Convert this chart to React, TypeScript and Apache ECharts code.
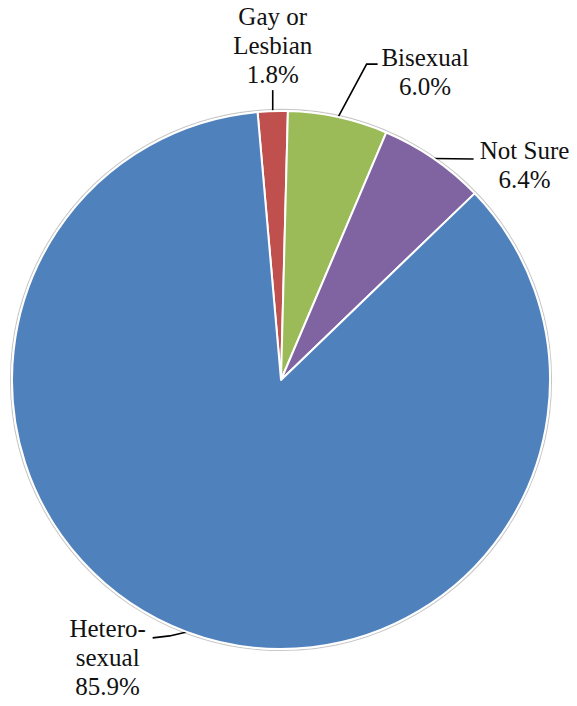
import React, { useEffect, useRef } from "react";
import * as echarts from "echarts";

const categories = ["Gay or\nLesbian", "Bisexual", "Not Sure", "Hetero-\nsexual"];
const values = [1.8, 6.0, 6.4, 85.9];
const colors = ["#C0504D", "#9BBB59", "#8064A2", "#4F81BD"];
const FONT = "Liberation Serif";

export default function App() {
  const ref = useRef<HTMLDivElement>(null);
  useEffect(() => {
    if (!ref.current) return;
    const chart = echarts.init(ref.current, null, { renderer: "svg" });
    const cx = 281;
    const cy = 380;
    const R = 269;
    const total = values.reduce((a, b) => a + b, 0);
    const startAngle = 95;
    const edge = (i: number) => {
      let acc = 0;
      for (let k = 0; k < i; k++) acc += values[k];
      const mid = startAngle - ((acc + values[i] / 2) / total) * 360;
      const rad = (mid * Math.PI) / 180;
      return [cx + R * Math.cos(rad), cy - R * Math.sin(rad)];
    };
    chart.setOption({
      animation: false,
      backgroundColor: "#ffffff",
      textStyle: { fontFamily: FONT },
      graphic: [
        {
          type: "circle",
          z: -10,
          silent: true,
          shape: { cx, cy, r: R + 1.5 },
          style: { fill: "#ffffff", stroke: "#c8c8c8", lineWidth: 1.2 },
        },
      ],
      series: [
        {
          type: "pie",
          z: 5,
          center: [cx, cy],
          radius: [0, R],
          startAngle,
          clockwise: true,
          avoidLabelOverlap: false,
          itemStyle: { borderColor: "#ffffff", borderWidth: 2 },
          label: {
            show: true,
            position: "outside",
            fontFamily: FONT,
            fontSize: 25,
            lineHeight: 29,
            color: "#111111",
            align: "center",
            formatter: (p: any) => `${p.name}\n${Number(p.value).toFixed(1)}%`,
          },
          labelLine: { show: true, length: 10, length2: 10, lineStyle: { color: "#000000", width: 1.6 } },
          labelLayout: (params: any) => {
            const i = params.dataIndex;
            const p0 =
              params.labelLinePoints && params.labelLinePoints[0]
                ? params.labelLinePoints[0]
                : edge(i);
            const [x0, y0] = p0;
            if (i === 0) {
              const y1 = y0 - 21;
              return {
                x: x0,
                y: y1 - 1,
                align: "center",
                verticalAlign: "bottom",
                labelLinePoints: [[x0, y0], [x0, y1], [x0, y1]],
              };
            }
            if (i === 1) {
              const p1 = [x0 + 28.5, y0 - 53];
              const p2 = [x0 + 39.5, y0 - 53];
              return {
                x: x0 + 87,
                y: y0 - 74,
                align: "center",
                verticalAlign: "top",
                labelLinePoints: [[x0, y0], p1, p2],
              };
            }
            if (i === 2) {
              const p2 = [x0 + 40, y0 + 0.5];
              return {
                x: x0 + 91,
                y: y0 - 22,
                align: "center",
                verticalAlign: "top",
                labelLinePoints: [[x0, y0], p2, p2],
              };
            }
            const p1 = [x0 - 17, y0 + 4];
            const p2 = [x0 - 34, y0 + 6];
            return {
              x: x0 - 79,
              y: y0 - 18,
              align: "center",
              verticalAlign: "top",
              labelLinePoints: [[x0, y0], p1, p2],
            };
          },
          data: categories.map((name, i) => ({
            name,
            value: values[i],
            itemStyle: { color: colors[i] },
          })),
        },
      ],
    });
    return () => chart.dispose();
  }, []);
  return (
    <div
      ref={ref}
      style={{ position: "fixed", left: 0, top: 0, width: 577, height: 706 }}
    />
  );
}
